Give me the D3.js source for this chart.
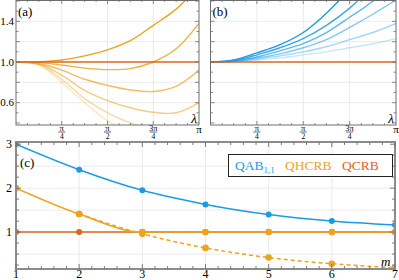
<!DOCTYPE html>
<html>
<head>
<meta charset="utf-8">
<script src="https://cdn.jsdelivr.net/npm/d3@7"></script>
<style>
body { margin: 0; background: #fff; }
</style>
</head>
<body>
<svg id="fig"></svg>
<script>
// sample positions along lambda, in units of pi
var lamFrac = [0, 0.125, 0.25, 0.375, 0.5, 0.625, 0.75, 0.875, 1];

// panel (a) curves
var aCurve1 = [1, 1.003, 1.02, 1.06, 1.12, 1.21, 1.36, 1.52, 1.75];
var aCurve2 = [1, 0.995, 0.97, 0.94, 0.925, 0.935, 1.0, 1.13, 1.38];
var aCurve3 = [1, 0.985, 0.92, 0.83, 0.77, 0.725, 0.71, 0.76, 0.92];
var aCurve4 = [1, 0.98, 0.87, 0.72, 0.62, 0.55, 0.505, 0.50, 0.60];
var aCurve5 = [1, 0.975, 0.83, 0.64, 0.50, 0.40, 0.33, 0.30, 0.34];
var aCurve6 = [1, 0.97, 0.80, 0.60, 0.42, 0.30, 0.22, 0.20, 0.24];

// panel (b) curves
var bCurve1 = [1, 1.02, 1.09, 1.17, 1.29, 1.48, 1.72, 2.0, 2.4];
var bCurve2 = [1, 1.015, 1.07, 1.14, 1.23, 1.36, 1.53, 1.75, 2.0];
var bCurve3 = [1, 1.01, 1.05, 1.11, 1.18, 1.29, 1.44, 1.60, 1.85];
var bCurve4 = [1, 1.008, 1.04, 1.08, 1.14, 1.22, 1.34, 1.47, 1.61];
var bCurve5 = [1, 1.005, 1.03, 1.06, 1.10, 1.15, 1.22, 1.29, 1.38];
var bCurve6 = [1, 1.004, 1.02, 1.04, 1.07, 1.10, 1.14, 1.18, 1.23];

// panel (c)
var mValues = [1, 2, 3, 4, 5, 6, 7];
var qab = [3, 2.42, 1.95, 1.63, 1.40, 1.25, 1.16];
var qhcrb = [2, 1.41, 1, 1, 1, 1, 1];
var qhcrbDash = [null, 1.41, 0.96, 0.64, 0.42, 0.28, 0.19];
var qcrb = [1, 1, 1, 1, 1, 1, 1];

var lamTicks = [0.25, 0.5, 0.75];
var lamTickNum = ['π', 'π', '3π'];
var lamTickDen = ['4', '2', '4'];
var yTicksA = [0.6, 1.0, 1.4];
var yTicksC = [1, 2, 3];

var blue = '#1b9be3', orange = '#eca31e', red = '#dd661c';
var fadeA = [1, 0.85, 0.7, 0.55, 0.4, 0.25];
var fadeB = [1, 0.85, 0.7, 0.55, 0.4, 0.25];
var serif = "'Liberation Serif', 'DejaVu Serif', serif";

var svg = d3.select('#fig').attr('width', 399).attr('height', 280)
    .attr('font-family', serif);

var yA = d3.scaleLinear().domain([0.38, 1.61]).range([125, 0]);

function lambdaPanel(x0, x1, curves, color, fades, name, labels, id) {
    var x = d3.scaleLinear().domain([0, 1]).range([x0, x1]);
    var g = svg.append('g');

    g.append('clipPath').attr('id', id)
        .append('rect').attr('x', x0).attr('y', 0).attr('width', x1 - x0).attr('height', 125);

    // grid
    lamTicks.forEach(t => {
        g.append('line').attr('x1', x(t)).attr('x2', x(t)).attr('y1', 0).attr('y2', 125)
            .attr('stroke', '#e6e6e6').attr('stroke-width', 0.8);
    });
    [0.6, 0.8, 1.2, 1.4].forEach(v => {
        g.append('line').attr('x1', x0).attr('x2', x1).attr('y1', yA(v)).attr('y2', yA(v))
            .attr('stroke', '#e6e6e6').attr('stroke-width', 0.8);
    });

    var line = d3.line()
        .x((d, i) => x(lamFrac[i]))
        .y(d => yA(d))
        .curve(d3.curveCatmullRom.alpha(0.5));

    var cg = g.append('g').attr('clip-path', 'url(#' + id + ')');
    curves.slice().reverse().forEach((c, j) => {
        var i = curves.length - 1 - j;
        cg.append('path').attr('d', line(c)).attr('fill', 'none')
            .attr('stroke', color).attr('stroke-opacity', fades[i]).attr('stroke-width', 1.4);
    });
    cg.append('line').attr('x1', x0).attr('x2', x1).attr('y1', yA(1)).attr('y2', yA(1))
        .attr('stroke', red).attr('stroke-width', 1.5);

    // frame + ticks
    g.append('rect').attr('x', x0).attr('y', 0.5).attr('width', x1 - x0).attr('height', 124.5)
        .attr('fill', 'none').attr('stroke', '#6e6e6e').attr('stroke-width', 1);
    d3.range(4, 17).forEach(k => {
        var v = k / 10, len = (k % 2 === 0) ? 4 : 2.5;
        g.append('line').attr('x1', x0).attr('x2', x0 + len).attr('y1', yA(v)).attr('y2', yA(v))
            .attr('stroke', '#6e6e6e').attr('stroke-width', 0.8);
        g.append('line').attr('x1', x1).attr('x2', x1 - len).attr('y1', yA(v)).attr('y2', yA(v))
            .attr('stroke', '#6e6e6e').attr('stroke-width', 0.8);
    });
    d3.range(1, 16).forEach(k => {
        var t = k / 16, len = (k % 4 === 0) ? 4 : 2;
        g.append('line').attr('x1', x(t)).attr('x2', x(t)).attr('y1', 125).attr('y2', 125 - len)
            .attr('stroke', '#6e6e6e').attr('stroke-width', 0.8);
        g.append('line').attr('x1', x(t)).attr('x2', x(t)).attr('y1', 0).attr('y2', len)
            .attr('stroke', '#6e6e6e').attr('stroke-width', 0.8);
    });

    // fraction tick labels
    lamTicks.forEach((t, i) => {
        g.append('text').attr('x', x(t)).attr('y', 130.5).attr('text-anchor', 'middle')
            .attr('font-size', 8.5).attr('fill', '#000').text(lamTickNum[i]);
        g.append('line').attr('x1', x(t) - 3.5).attr('x2', x(t) + 3.5).attr('y1', 132).attr('y2', 132)
            .attr('stroke', '#000').attr('stroke-width', 0.6);
        g.append('text').attr('x', x(t)).attr('y', 139).attr('text-anchor', 'middle')
            .attr('font-size', 7.5).attr('fill', '#000').text(lamTickDen[i]);
    });
    g.append('text').attr('x', x(1)).attr('y', 133).attr('text-anchor', 'middle')
        .attr('font-size', 11).text('π');
    g.append('text').attr('x', x1 - 2).attr('y', 123).attr('text-anchor', 'end')
        .attr('font-size', 13).attr('font-style', 'italic').text('λ');
    g.append('text').attr('x', x0 + 2).attr('y', 16).attr('font-size', 13).text(name);

    if (labels) {
        yTicksA.forEach(v => {
            g.append('text').attr('x', x0 - 2).attr('y', yA(v) + 3.8).attr('text-anchor', 'end')
                .attr('font-size', 11).text(d3.format('.1f')(v));
        });
    }
}

lambdaPanel(16, 199, [aCurve1, aCurve2, aCurve3, aCurve4, aCurve5, aCurve6], orange, fadeA, '(a)', true, 'clipA');
lambdaPanel(210.5, 396, [bCurve1, bCurve2, bCurve3, bCurve4, bCurve5, bCurve6], blue, fadeB, '(b)', false, 'clipB');

// panel (c)
var xC = d3.scaleLinear().domain([1, 7]).range([16, 395]);
var yC = d3.scaleLinear().domain([0.16, 3.05]).range([269, 142]);
var gc = svg.append('g');

gc.append('clipPath').attr('id', 'clipC')
    .append('rect').attr('x', 16).attr('y', 142).attr('width', 379).attr('height', 127);

d3.range(2, 7).forEach(m => {
    gc.append('line').attr('x1', xC(m)).attr('x2', xC(m)).attr('y1', 142).attr('y2', 269)
        .attr('stroke', '#e6e6e6').attr('stroke-width', 0.8);
});
[0.5, 1, 1.5, 2, 2.5].forEach(v => {
    gc.append('line').attr('x1', 16).attr('x2', 395).attr('y1', yC(v)).attr('y2', yC(v))
        .attr('stroke', '#e6e6e6').attr('stroke-width', 0.8);
});

var lineC = d3.line()
    .defined(d => d !== null)
    .x((d, i) => xC(mValues[i]))
    .y(d => yC(d))
    .curve(d3.curveMonotoneX);

var pc = gc.append('g').attr('clip-path', 'url(#clipC)');

function series(vals, color, dash, r) {
    pc.append('path').attr('d', lineC(vals)).attr('fill', 'none').attr('stroke', color)
        .attr('stroke-width', 1.5).attr('stroke-dasharray', dash);
    pc.selectAll(null).data(vals.map((v, i) => [mValues[i], v]).filter(d => d[1] !== null))
        .enter().append('circle')
        .attr('cx', d => xC(d[0])).attr('cy', d => yC(d[1])).attr('r', r).attr('fill', color);
}
series(qcrb, red, null, 3);
series(qhcrbDash, orange, '4,3', 3.3);
series(qhcrb, orange, null, 3.3);
series(qab, blue, null, 3);

gc.append('rect').attr('x', 16).attr('y', 142).attr('width', 379).attr('height', 127)
    .attr('fill', 'none').attr('stroke', '#8c8c8c').attr('stroke-width', 2);
d3.range(1, 7.001, 0.2).forEach((m, k) => {
    var len = (k % 5 === 0) ? 5 : 3;
    gc.append('line').attr('x1', xC(m)).attr('x2', xC(m)).attr('y1', 269).attr('y2', 269 - len)
        .attr('stroke', '#6e6e6e').attr('stroke-width', 0.9);
    gc.append('line').attr('x1', xC(m)).attr('x2', xC(m)).attr('y1', 142).attr('y2', 142 + len)
        .attr('stroke', '#6e6e6e').attr('stroke-width', 0.9);
});
d3.range(0.25, 3.01, 0.25).forEach((v, k) => {
    var len = (k % 4 === 3) ? 5 : 3;
    gc.append('line').attr('x1', 16).attr('x2', 16 + len).attr('y1', yC(v)).attr('y2', yC(v))
        .attr('stroke', '#6e6e6e').attr('stroke-width', 0.9);
    gc.append('line').attr('x1', 395).attr('x2', 395 - len).attr('y1', yC(v)).attr('y2', yC(v))
        .attr('stroke', '#6e6e6e').attr('stroke-width', 0.9);
});
mValues.forEach(m => {
    gc.append('text').attr('x', xC(m)).attr('y', 277.5).attr('text-anchor', 'middle')
        .attr('font-size', 12).text(m);
});
yTicksC.forEach(v => {
    gc.append('text').attr('x', 12).attr('y', yC(v) + 4).attr('text-anchor', 'end')
        .attr('font-size', 12).text(v);
});
gc.append('text').attr('x', 20).attr('y', 167).attr('font-size', 13).text('(c)');
gc.append('text').attr('x', 381).attr('y', 266).attr('font-size', 13).attr('font-style', 'italic').text('m');

// legend
var lg = gc.append('g');
lg.append('rect').attr('x', 228.5).attr('y', 154.5).attr('width', 164).attr('height', 22)
    .attr('fill', '#fff').attr('stroke', '#222').attr('stroke-width', 1);
var t1 = lg.append('text').attr('x', 235).attr('y', 169.5).attr('font-size', 13.5).attr('fill', blue);
t1.append('tspan').text('QAB');
t1.append('tspan').attr('font-size', 9).attr('dy', 3).text('1,1');
lg.append('text').attr('x', 285).attr('y', 169.5).attr('font-size', 13.5).attr('fill', orange).text('QHCRB');
lg.append('text').attr('x', 342).attr('y', 169.5).attr('font-size', 13.5).attr('fill', red).text('QCRB');
</script>
</body>
</html>
